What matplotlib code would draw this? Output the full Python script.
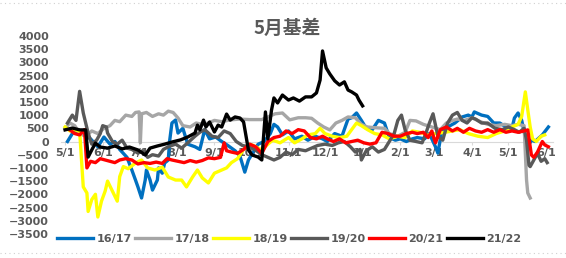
import matplotlib
matplotlib.use("Agg")
import matplotlib.pyplot as plt
from matplotlib.lines import Line2D

# x = days since May 1, y = basis
x_1617 = [2, 6, 11, 16, 21, 27, 32, 37, 41, 45, 51, 55, 58, 60, 63, 66, 67, 70, 72, 76, 77, 80, 82, 85, 86, 88, 91, 93, 97, 101,
          107, 111, 115, 119, 124, 129, 134, 140, 144, 148, 151, 155, 159, 164, 169, 172, 175, 179, 184, 189, 195, 200, 206,
          212, 216, 222, 228, 233, 236, 240, 244, 248, 253, 258, 263, 267, 272, 276, 281, 286, 290, 296, 300, 305, 307, 310,
          315, 321, 327, 332, 335, 337, 343, 348, 353, 358, 363, 368, 370, 373, 376, 379, 381, 384, 387, 393, 398]
y_1617 = [0, 300, 450, 250, 100, -200, 170, -100, 0, -300, -600, -1080, -1460, -1720, -2140, -1460, -1080, -1460, -1840,
          -1460, -1000, -1200, -815, -700, -20, 700, 815, 320, 500, -100, -200, -300, 450, 100, 170, 0, -150, -350, -550,
          -1160, -700, -400, -100, 0, 300, 650, 550, 250, 400, 100, 200, 50, 200, 100, 0, 300, 200, 850, 900, 1080, 800,
          500, 450, 800, 700, 150, 50, 100, 0, 100, 150, 100, 300, -200, -440, 350, 550, 700, 930, 1000, 930, 1120, 1000,
          950, 700, 700, 550, 500, 890, 1080, 800, 170, -200, 50, 0, 250, 550]

x_1718 = [0, 4, 8, 12, 17, 22, 27, 32, 37, 41, 45, 50, 55, 58, 61, 62, 63, 67, 72, 77, 81, 85, 89, 93, 97, 103, 108, 113,
          118, 123, 129, 136, 144, 152, 162, 167, 173, 179, 185, 192, 198, 203, 208, 213, 218, 223, 228, 233, 239, 244,
          249, 256, 263, 267, 274, 280, 284, 289, 295, 302, 309, 314, 319, 323, 329, 335, 342, 348, 355, 362, 368, 373,
          378, 380, 381, 383]
y_1718 = [500, 700, 600, 300, 200, 400, 300, 500, 600, 800, 750, 1000, 950, 1100, 1120, -50, 1050, 1100, 950, 1050, 1000,
          1150, 1100, 890, 600, 550, 700, 650, 700, 800, 750, 820, 850, 830, 830, 930, 1050, 1080, 820, 900, 900, 880, 700,
          550, 440, 700, 800, 930, 900, 650, 550, 520, 500, 300, 200, 350, 800, 780, 650, 550, 450, 700, 800, 850, 800, 900,
          750, 650, 600, 650, 600, 650, 600, -1460, -1950, -2140]

x_1819 = [0, 4, 8, 12, 15, 18, 19, 22, 25, 27, 30, 33, 35, 39, 43, 45, 48, 52, 58, 63, 68, 74, 80, 85, 91, 96, 100, 105,
          109, 113, 118, 123, 128, 133, 137, 142, 147, 151, 155, 159, 162, 167, 171, 177, 184, 189, 195, 200, 206, 210, 214,
          220, 226, 232, 236, 240, 244, 249, 255, 261, 267, 274, 280, 286, 292, 299, 305, 313, 319, 325, 332, 340, 348, 355,
          362, 368, 373, 376, 379, 381, 383, 385, 388, 392, 395]
y_1819 = [550, 400, 440, 400, -1720, -1950, -2650, -2200, -2000, -2860, -2260, -1880, -1500, -1880, -2260, -1330, -950,
          -1030, -815, -700, -1000, -1080, -970, -1345, -1460, -1460, -1720, -1345, -1080, -1380, -1570, -1200, -1100, -1000,
          -800, -650, -300, -100, -150, -250, -320, -100, 50, -50, 150, -50, 100, 250, 300, 500, 300, 200, 150, 200, 450, 700,
          600, 450, 300, 250, 100, 200, 150, 400, 350, 250, 300, 350, 400, 450, 300, 200, 150, 300, 400, 550, 650, 950, 1880,
          1200, 550, 100, 0, 200, 250]

x_1920 = [2, 6, 9, 12, 15, 17, 19, 22, 26, 29, 31, 34, 35, 39, 43, 47, 51, 55, 60, 64, 68, 72, 77, 81, 85, 91, 96, 101, 107,
          111, 115, 121, 126, 131, 136, 141, 146, 151, 156, 162, 167, 172, 177, 182, 187, 192, 198, 203, 208, 214, 220, 225,
          230, 235, 239, 243, 244, 248, 253, 258, 263, 267, 271, 274, 277, 280, 284, 289, 294, 297, 300, 303, 307, 311, 315,
          319, 323, 327, 331, 335, 338, 343, 348, 354, 360, 365, 370, 374, 378, 380, 382, 383, 386, 389, 392, 395, 397]
y_1920 = [700, 1000, 800, 1900, 1080, 700, 320, -100, 50, 300, 600, 550, 320, 0, -100, 50, -250, -300, -440, -350, -600,
          -500, -550, -300, -200, -100, -250, -50, 200, 350, 450, 200, 150, 400, 300, 0, -150, -200, -300, -500, -600, -700,
          -600, -400, -500, -300, -350, -250, -150, -100, -150, -50, 0, -200, -400, -300, -700, -350, -200, -400, -300, 0,
          300, 800, 1000, 440, 50, 0, -50, 300, 700, 1050, 200, 50, 700, 1000, 1100, 800, 700, 900, 850, 700, 700, 500, 450,
          550, 450, 350, 500, 50, -900, -950, -700, -450, -750, -650, -800]

x_2021 = [4, 8, 12, 16, 18, 21, 25, 29, 33, 37, 41, 45, 50, 55, 60, 65, 70, 75, 80, 84, 88, 93, 98, 103, 108, 113, 118, 123,
          128, 131, 133, 137, 142, 147, 152, 157, 162, 167, 172, 177, 182, 187, 192, 197, 202, 207, 212, 216, 221, 226, 231,
          236, 241, 246, 251, 256, 261, 266, 271, 276, 281, 286, 290, 295, 299, 302, 305, 309, 314, 319, 323, 328, 333, 338,
          343, 348, 353, 358, 363, 368, 373, 378, 381, 384, 386, 389, 393, 395, 398]
y_2021 = [440, 300, 250, 450, -1000, -750, -800, -650, -700, -750, -800, -700, -650, -700, -850, -800, -830, -780, -830,
          -650, -700, -750, -800, -720, -780, -720, -620, -650, -600, -50, -350, -400, -450, -300, -100, -200, -450, 0, 150,
          200, 400, 300, 450, 400, 150, 100, 200, 100, 0, 100, -50, 0, 50, -50, -100, -50, 350, 300, 200, 200, 300, 350, 300,
          350, 150, 400, -50, 450, 550, 400, 500, 350, 500, 400, 350, 450, 350, 450, 350, 400, 350, 400, 440, -510, -600,
          -400, 0, -130, -200]

x_2122 = [0, 6, 12, 17, 19, 22, 25, 29, 35, 41, 47, 53, 60, 66, 70, 76, 82, 88, 95, 101, 107, 109, 111, 114, 116, 119, 123,
          126, 129, 133, 136, 140, 144, 147, 151, 154, 159, 162, 165, 167, 170, 172, 175, 179, 184, 188, 193, 198, 203, 207,
          210, 212, 215, 218, 222, 226, 230, 233, 236, 240, 242, 245]
y_2122 = [440, 510, 440, 440, -590, -320, -60, -210, -250, -170, -280, -210, -320, -510, -250, -170, -100, -20, 60, 170,
          320, 620, 440, 810, 550, 740, 360, 620, 550, 1040, 810, 930, 890, 740, -320, -510, -590, -700, 1120, 100, 1190,
          1650, 1460, 1760, 1570, 1650, 1530, 1690, 1690, 1840, 2330, 3430, 2790, 2560, 2300, 2140, 2260, 1950, 1880, 1760,
          1570, 1350]

series = [
    ("16/17", x_1617, y_1617, "#0070C0"),
    ("17/18", x_1718, y_1718, "#A6A6A6"),
    ("18/19", x_1819, y_1819, "#FFFF00"),
    ("19/20", x_1920, y_1920, "#595959"),
    ("20/21", x_2021, y_2021, "#FF0000"),
    ("21/22", x_2122, y_2122, "#000000"),
]

tick_days = [0, 31, 61, 92, 123, 153, 184, 214, 245, 276, 304, 335, 365, 396]
tick_labels = ["5/1", "6/1", "7/1", "8/1", "9/1", "10/1", "11/1", "12/1", "1/1", "2/1", "3/1", "4/1", "5/1", "6/1"]
y_ticks = list(range(-3500, 4001, 500))

txt = "#595959"
plt.rcParams['font.family'] = ['DejaVu Sans']

fig = plt.figure(figsize=(5.66, 2.58), dpi=100)
ax = fig.add_axes([0.1085, 0.0934, 0.869, 0.7674])

for name, xs, ys, c in series:
    ax.plot(xs, ys, color=c, lw=2.4, label=name, solid_joinstyle='round')

ax.set_xlim(-3, 402)
ax.set_ylim(-3500, 4000)

for s in ['top', 'right', 'left']:
    ax.spines[s].set_visible(False)
ax.spines['bottom'].set_position(('data', 0))
ax.spines['bottom'].set_color("#D9D9D9")
ax.spines['bottom'].set_linewidth(0.8)
ax.spines['bottom'].set_zorder(0)

ax.set_xticks(tick_days)
ax.set_xticklabels(tick_labels)
ax.set_yticks(y_ticks)
ax.tick_params(axis='x', length=2.5, color="#D9D9D9", pad=2, labelsize=8, labelcolor=txt)
ax.tick_params(axis='y', length=0, pad=9, labelsize=8, labelcolor=txt)
for lab in ax.get_xticklabels() + ax.get_yticklabels():
    lab.set_fontweight('bold')

fig.text(0.508, 0.888, "5月基差", ha='center', va='center', fontsize=13.5, color=txt, fontweight='bold',
         family=['Noto Sans CJK SC', 'DejaVu Sans'])

leg = fig.legend(loc='center', bbox_to_anchor=(0.511, 0.074), ncol=6, frameon=False,
                 handlelength=3.2, handletextpad=0.3, columnspacing=0.35,
                 prop={'size': 8, 'weight': 'bold'})
for t in leg.get_texts():
    t.set_color(txt)

# dotted chart border
fig.add_artist(Line2D([0.0, 1.0], [0.988, 0.988], transform=fig.transFigure, color="#D0D0D0", lw=0.8, ls=(0, (1, 3))))
fig.add_artist(Line2D([0.0, 1.0], [0.02, 0.02], transform=fig.transFigure, color="#D0D0D0", lw=0.8, ls=(0, (1, 3))))

fig.savefig("out.png", dpi=100)
